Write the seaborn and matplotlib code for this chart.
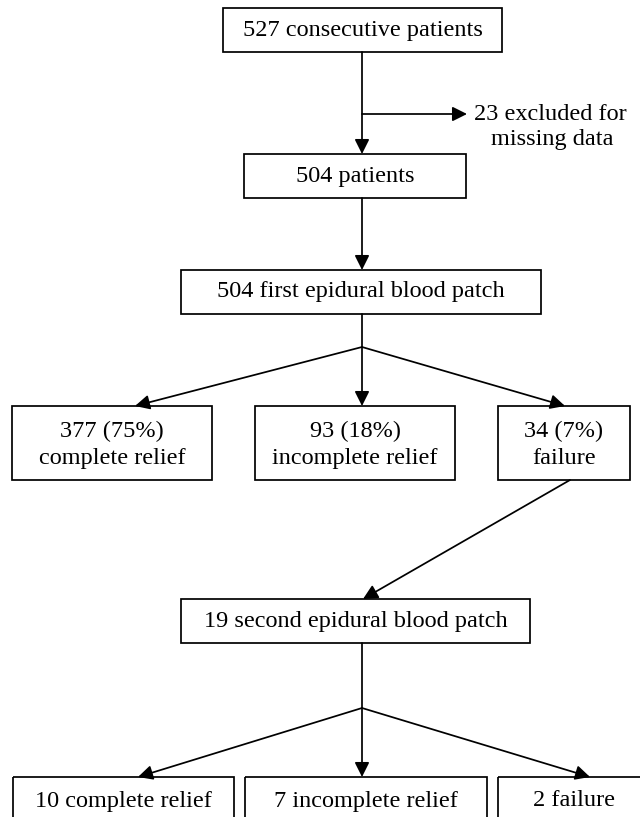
import matplotlib
matplotlib.use("Agg")
import matplotlib.pyplot as plt
import seaborn as sns
from matplotlib.patches import Rectangle

# Flow counts
total_patients = 527
excluded = 23
included = 504
first_ebp = 504
first_outcomes = ["complete relief", "incomplete relief", "failure"]
first_counts = [377, 93, 34]
first_pct = [75, 18, 7]
second_ebp = 19
second_outcomes = ["complete relief", "incomplete relief", "failure"]
second_counts = [10, 7, 2]

# Layout in pixel coordinates (x, y from top-left): left, top, right, bottom
box_top = (223, 8, 502, 52)
box_pat = (244, 154, 466, 198)
box_first = (181, 270, 541, 314)
boxes_lvl1 = [(12, 406, 212, 480), (255, 406, 455, 480), (498, 406, 630, 480)]
box_second = (181, 599, 530, 643)
boxes_lvl2 = [(13, 777, 234, 840), (245, 777, 487, 840), (498, 777, 650, 840)]
cx = 362
side_y = 114
split1_y = 347
split2_y = 708
tips1_x = [135, cx, 565]
tips2_x = [138, cx, 590]

sns.set_theme(style="white")
plt.rcParams["font.family"] = ["Liberation Serif", "DejaVu Serif"]

fig = plt.figure(figsize=(6.4, 8.17), dpi=100)
ax = fig.add_axes([0, 0, 1, 1])
ax.set_xlim(0, 640)
ax.set_ylim(817, 0)
ax.axis("off")

FS = 17.5
LW = 1.25


def box(b, text, yc=None):
    x0, y0, x1, y1 = b
    ax.add_patch(Rectangle((x0, y0), x1 - x0, y1 - y0, fill=False,
                           edgecolor="black", lw=LW))
    if yc is None:
        yc = (y0 + y1) / 2
    ax.text((x0 + x1) / 2, yc, text, ha="center", va="center",
            fontsize=FS, linespacing=1.35, color="black")


def arrow(p0, p1):
    ax.annotate("", xy=p1, xytext=p0,
                arrowprops=dict(arrowstyle="-|>", color="black", lw=LW,
                                mutation_scale=22, shrinkA=0, shrinkB=0))


def line(p0, p1):
    ax.plot([p0[0], p1[0]], [p0[1], p1[1]], color="black", lw=LW)


box(box_top, f"{total_patients} consecutive patients")
arrow((cx, box_top[3]), (cx, box_pat[1]))
arrow((cx, side_y), (467, side_y))
ax.text(474, side_y, f"{excluded} excluded for", ha="left", va="center",
        fontsize=FS, color="black")
ax.text(552, side_y + 25, "missing data", ha="center", va="center",
        fontsize=FS, color="black")

box(box_pat, f"{included} patients")
arrow((cx, box_pat[3]), (cx, box_first[1]))
box(box_first, f"{first_ebp} first epidural blood patch")

line((cx, box_first[3]), (cx, split1_y))
for b, tx, n, p, lab in zip(boxes_lvl1, tips1_x, first_counts, first_pct, first_outcomes):
    arrow((cx, split1_y), (tx, b[1]))
    box(b, f"{n} ({p}%)\n{lab}", yc=(b[1] + b[3]) / 2 + 2)

arrow((570, boxes_lvl1[2][3]), (363, box_second[1]))
box(box_second, f"{second_ebp} second epidural blood patch")

line((cx, box_second[3]), (cx, split2_y))
for b, tx, n, lab in zip(boxes_lvl2, tips2_x, second_counts, second_outcomes):
    arrow((cx, split2_y), (tx, b[1]))
    box(b, f"{n} {lab}", yc=801)

fig.savefig("out.png", dpi=100)
